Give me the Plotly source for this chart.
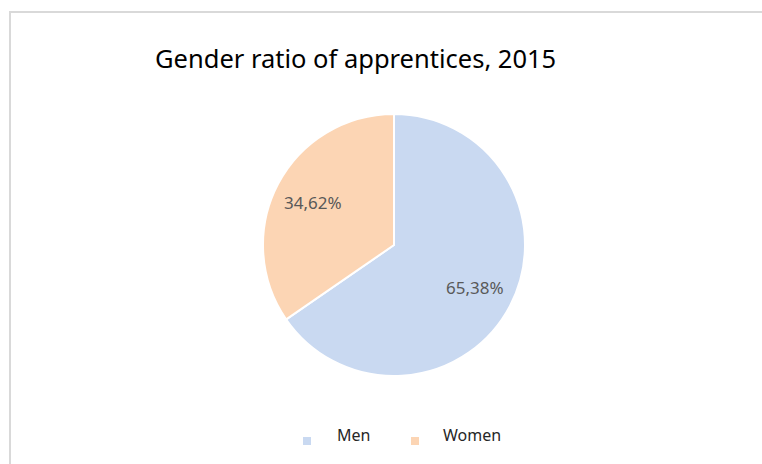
import math
import plotly.graph_objects as go

# Apprentice counts by gender, 2015 (percent shares)
categories = ["Men", "Women"]
shares = [65.38, 34.62]
colors = ["#C9D9F1", "#FCD5B4"]
title_text = "Gender ratio of apprentices, 2015"

W, H = 762, 464
cx, cy, r = 394, 245, 131  # pie centre and radius in pixels


def px(x):
    return x / W


def py(y):
    return 1 - y / H


def pct(v):
    return f"{v:.2f}%".replace(".", ",")


fig = go.Figure()
fig.add_trace(go.Pie(
    labels=categories,
    values=shares,
    sort=False,
    direction="clockwise",
    rotation=0,
    marker=dict(colors=colors, line=dict(color="white", width=2)),
    textinfo="none",
    hoverinfo="label+percent",
    showlegend=False,
    domain=dict(x=[px(cx - r), px(cx + r)], y=[py(cy + r), py(cy - r)]),
))

annotations = []
# Percentage labels placed at 70% of the radius, at each slice's mid angle
total = sum(shares)
start = 0.0
for v in shares:
    mid = (start + v / 2) / total * 2 * math.pi
    lx = cx + 0.7 * r * math.sin(mid)
    ly = cy - 0.7 * r * math.cos(mid)
    annotations.append(dict(
        x=px(lx), y=py(ly), xref="paper", yref="paper",
        text=pct(v), showarrow=False,
        font=dict(family="Noto Sans", size=17, color="#595959"),
        xanchor="center", yanchor="middle",
    ))
    start += v

# Title
annotations.append(dict(
    x=px(355), y=py(58), xref="paper", yref="paper",
    text=title_text, showarrow=False,
    font=dict(family="Noto Sans", size=25.5, color="#000000"),
    xanchor="center", yanchor="middle",
))

shapes = [dict(
    type="rect", xref="paper", yref="paper",
    x0=px(10), x1=px(W + 10), y0=py(H + 10), y1=py(12),
    line=dict(color="#D9D9D9", width=2), fillcolor="rgba(0,0,0,0)",
)]

# Legend: small squares with category names
legend_items = [(307, 335), (415, 441)]
for (mx, tx), name, col in zip(legend_items, categories, colors):
    shapes.append(dict(
        type="rect", xref="paper", yref="paper",
        x0=px(mx - 4), x1=px(mx + 4), y0=py(445), y1=py(437),
        fillcolor=col, line=dict(width=0),
    ))
    annotations.append(dict(
        x=px(tx), y=py(435), xref="paper", yref="paper",
        text=name, showarrow=False,
        font=dict(family="Noto Sans", size=16, color="#262626"),
        xanchor="left", yanchor="middle",
    ))

fig.update_layout(
    width=W, height=H, autosize=False,
    margin=dict(l=0, r=0, t=0, b=0),
    paper_bgcolor="white", plot_bgcolor="white",
    annotations=annotations, shapes=shapes,
)

fig.write_html("out.html")
